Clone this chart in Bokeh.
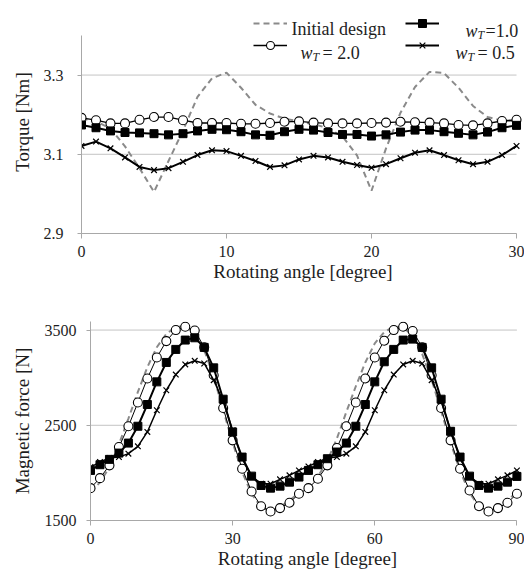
from bokeh.plotting import figure
from bokeh.layouts import column
from bokeh.models import Range1d, FixedTicker, Legend, LegendItem, Label
from bokeh.core.properties import value
from bokeh.embed import file_html
from bokeh.resources import INLINE

# ---------------- data ----------------
angle_t = list(range(0, 31))
torque_init = [3.190, 3.183, 3.165, 3.120, 3.065, 3.005, 3.083, 3.160, 3.245, 3.292, 3.306,
               3.268, 3.225, 3.203, 3.190, 3.183, 3.176, 3.166, 3.145, 3.097, 3.008,
               3.115, 3.205, 3.270, 3.308, 3.305, 3.268, 3.222, 3.194, 3.185, 3.184]
torque_w20 = [3.192, 3.186, 3.178, 3.178, 3.187, 3.194, 3.194, 3.186, 3.179, 3.179, 3.179,
              3.177, 3.177, 3.179, 3.182, 3.183, 3.180, 3.178, 3.178, 3.178, 3.179,
              3.180, 3.182, 3.181, 3.180, 3.178, 3.174, 3.173, 3.178, 3.184, 3.187]
torque_w10 = [3.174, 3.167, 3.159, 3.155, 3.154, 3.152, 3.149, 3.152, 3.159, 3.163, 3.162,
              3.157, 3.149, 3.148, 3.157, 3.163, 3.161, 3.155, 3.150, 3.150, 3.146,
              3.149, 3.156, 3.161, 3.161, 3.157, 3.153, 3.149, 3.156, 3.167, 3.173]
torque_w05 = [3.121, 3.132, 3.115, 3.092, 3.068, 3.060, 3.065, 3.081, 3.098, 3.110, 3.108,
              3.096, 3.083, 3.068, 3.072, 3.087, 3.096, 3.092, 3.081, 3.073, 3.066,
              3.075, 3.090, 3.104, 3.110, 3.098, 3.085, 3.075, 3.081, 3.098, 3.121]

angle_f = list(range(0, 92, 2))
force_init = [1800, 1900, 2060, 2300, 2570, 2850, 3110, 3320, 3460, 3530, 3545, 3470,
              3290, 3010, 2660, 2320, 2010, 1780, 1640, 1600, 1640, 1710, 1790,
              1850, 1960, 2130, 2360, 2640, 2910, 3160, 3360, 3480, 3535, 3530, 3440,
              3250, 2980, 2650, 2320, 2020, 1790, 1650, 1610, 1650, 1720, 1790]
force_w20 = [1840, 1945, 2079, 2272, 2490, 2739, 2991, 3212, 3384, 3500, 3535, 3495,
             3320, 3026, 2682, 2342, 2044, 1805, 1650, 1595, 1630, 1686, 1781,
             1840, 1939, 2079, 2261, 2490, 2739, 2991, 3212, 3388, 3500, 3535, 3490,
             3320, 3026, 2682, 2342, 2044, 1815, 1650, 1595, 1630, 1686, 1781]
force_w10 = [2026, 2086, 2142, 2208, 2313, 2490, 2718, 2956, 3160, 3297, 3395, 3419,
             3318, 3103, 2774, 2430, 2166, 1966, 1868, 1840, 1861, 1903, 1956,
             2026, 2086, 2149, 2219, 2313, 2490, 2718, 2956, 3167, 3297, 3395, 3405,
             3318, 3103, 2774, 2437, 2166, 1966, 1868, 1840, 1861, 1903, 1963]
force_w05 = [2061, 2114, 2156, 2166, 2202, 2279, 2430, 2658, 2868, 3033, 3139, 3177,
             3149, 2974, 2753, 2447, 2149, 1966, 1886, 1886, 1932, 1974, 2026,
             2068, 2114, 2156, 2166, 2202, 2279, 2430, 2658, 2868, 3033, 3139, 3177,
             3149, 2974, 2753, 2447, 2149, 1966, 1886, 1886, 1932, 1974, 2026]

torque_xticks = [0, 10, 20, 30]
torque_xlim = (0, 30)
torque_yticks = [2.9, 3.1, 3.3]
torque_ylim = (2.9, 3.4)
force_xticks = [0, 30, 60, 90]
force_xlim = (0, 90)
force_yticks = [1500, 2500, 3500]
force_ylim = (1500, 3590)

# ---------------- style ----------------
FONT = "Liberation Serif"
TXT = "#1e1e1e"
GRID = "#c4c4c4"
AXIS = "#a8a8a8"
DASH = "#8a8a8a"


def style(p, xticks, xlim, yticks, ylim, y_lab_standoff, y_title_standoff, xtitle, ytitle):
    p.outline_line_color = None
    p.background_fill_color = "white"
    p.xgrid.visible = False
    p.ygrid.visible = False
    # horizontal grid lines spanning only the axis extent
    n = len(yticks)
    p.segment(x0=[xlim[0]] * n, y0=yticks, x1=[xlim[1]] * n, y1=yticks,
              line_color=GRID, line_width=1, level="underlay")
    p.xaxis.ticker = FixedTicker(ticks=xticks)
    p.yaxis.ticker = FixedTicker(ticks=yticks)
    p.xaxis.bounds = xlim
    p.yaxis.bounds = ylim
    for ax in p.xaxis + p.yaxis:
        ax.axis_line_color = AXIS
        ax.major_tick_line_color = AXIS
        ax.minor_tick_line_color = None
        ax.major_tick_in = 0
        ax.major_label_text_font = FONT
        ax.major_label_text_font_size = "16px"
        ax.major_label_text_color = TXT
        ax.axis_label_text_font = FONT
        ax.axis_label_text_font_size = "19px"
        ax.axis_label_text_font_style = "normal"
        ax.axis_label_text_color = TXT
    p.xaxis.major_tick_out = 5
    p.xaxis.major_label_standoff = 7
    p.xaxis.axis_label_standoff = 1
    p.xaxis.axis_label = xtitle
    p.yaxis.major_tick_out = 4
    p.yaxis.major_label_standoff = y_lab_standoff
    p.yaxis.axis_label_standoff = y_title_standoff
    p.yaxis.axis_label = ytitle


def series(p, x, y_init, y20, y10, y05, csize, ssize, xsize, w20, w10, w05):
    r_init = p.line(x, y_init, line_color=DASH, line_dash="6 4", line_width=2)
    l20 = p.line(x, y20, line_color="black", line_width=w20)
    m20 = p.scatter(x, y20, marker="circle", size=csize, fill_color="white",
                    line_color="black", line_width=1.1)
    l10 = p.line(x, y10, line_color="black", line_width=w10)
    m10 = p.scatter(x, y10, marker="square", size=ssize, fill_color="black",
                    line_color="black")
    l05 = p.line(x, y05, line_color="black", line_width=w05)
    m05 = p.scatter(x, y05, marker="x", size=xsize, line_color="black", line_width=1.2)
    return r_init, (l20, m20), (l10, m10), (l05, m05)


# ---------------- torque figure ----------------
# frame reaches a little beyond the axis extents (axis lines bounded) so the
# legend and the last markers are not clipped
p1 = figure(width=524, height=295, x_range=Range1d(0, 30.55), y_range=Range1d(2.9, 3.463),
            output_backend="svg", toolbar_location=None, title=None, frame_align=False,
            min_border_left=81, min_border_right=0, min_border_top=10, min_border_bottom=62)
style(p1, torque_xticks, torque_xlim, torque_yticks, torque_ylim, 14, 8,
      "Rotating angle [degree]", "Torque [Nm]")
r_init, g20, g10, g05 = series(p1, angle_t, torque_init, torque_w20, torque_w10, torque_w05,
                               9, 8, 8, 1.3, 2, 2)

legend = Legend(
    items=[LegendItem(label=value(" "), renderers=[r_init]),
           LegendItem(label=value(" "), renderers=list(g20)),
           LegendItem(label=value(" "), renderers=list(g10)),
           LegendItem(label=value(" "), renderers=list(g05))],
    location=(172, 178), orientation="vertical", ncols=2,
    glyph_width=34, glyph_height=20, label_width=116, label_height=20,
    label_standoff=0, spacing=2, padding=0, margin=0,
    border_line_color=None, background_fill_alpha=0,
    label_text_font_size="6px")
p1.add_layout(legend)


def lab(p, x, y, text, size="18px", style="normal"):
    p.add_layout(Label(x=x, y=y, x_units="screen", y_units="screen", text=text,
                       text_font=FONT, text_font_size=size, text_font_style=style,
                       text_color=TXT, text_align="left", text_baseline="alphabetic"))


# legend texts (pixels relative to the plot frame's bottom-left corner)
lab(p1, 210, 205, "Initial design")
# w_T = 1.0
lab(p1, 384, 203, "w", style="italic")
lab(p1, 396, 199, "T", size="12px", style="italic")
lab(p1, 404, 203, "=1.0")
# w_T = 2.0
lab(p1, 219, 181, "w", style="italic")
lab(p1, 231, 177, "T", size="12px", style="italic")
lab(p1, 241, 181, "= 2.0")
# w_T = 0.5
lab(p1, 374, 181, "w", style="italic")
lab(p1, 386, 177, "T", size="12px", style="italic")
lab(p1, 396, 181, "= 0.5")

# ---------------- force figure ----------------
p2 = figure(width=524, height=279, x_range=Range1d(0, 91.6), y_range=Range1d(*force_ylim),
            output_backend="svg", toolbar_location=None, title=None, frame_align=False,
            min_border_left=90, min_border_right=0, min_border_top=26, min_border_bottom=54)
style(p2, force_xticks, force_xlim, force_yticks, force_ylim, 10, 9,
      "Rotating angle [degree]", "Magnetic force [N]")
series(p2, angle_f, force_init, force_w20, force_w10, force_w05, 9, 8, 8, 1, 2, 1.5)

layout = column(p1, p2, spacing=0)
open("out.html", "w").write(file_html(layout, INLINE))
